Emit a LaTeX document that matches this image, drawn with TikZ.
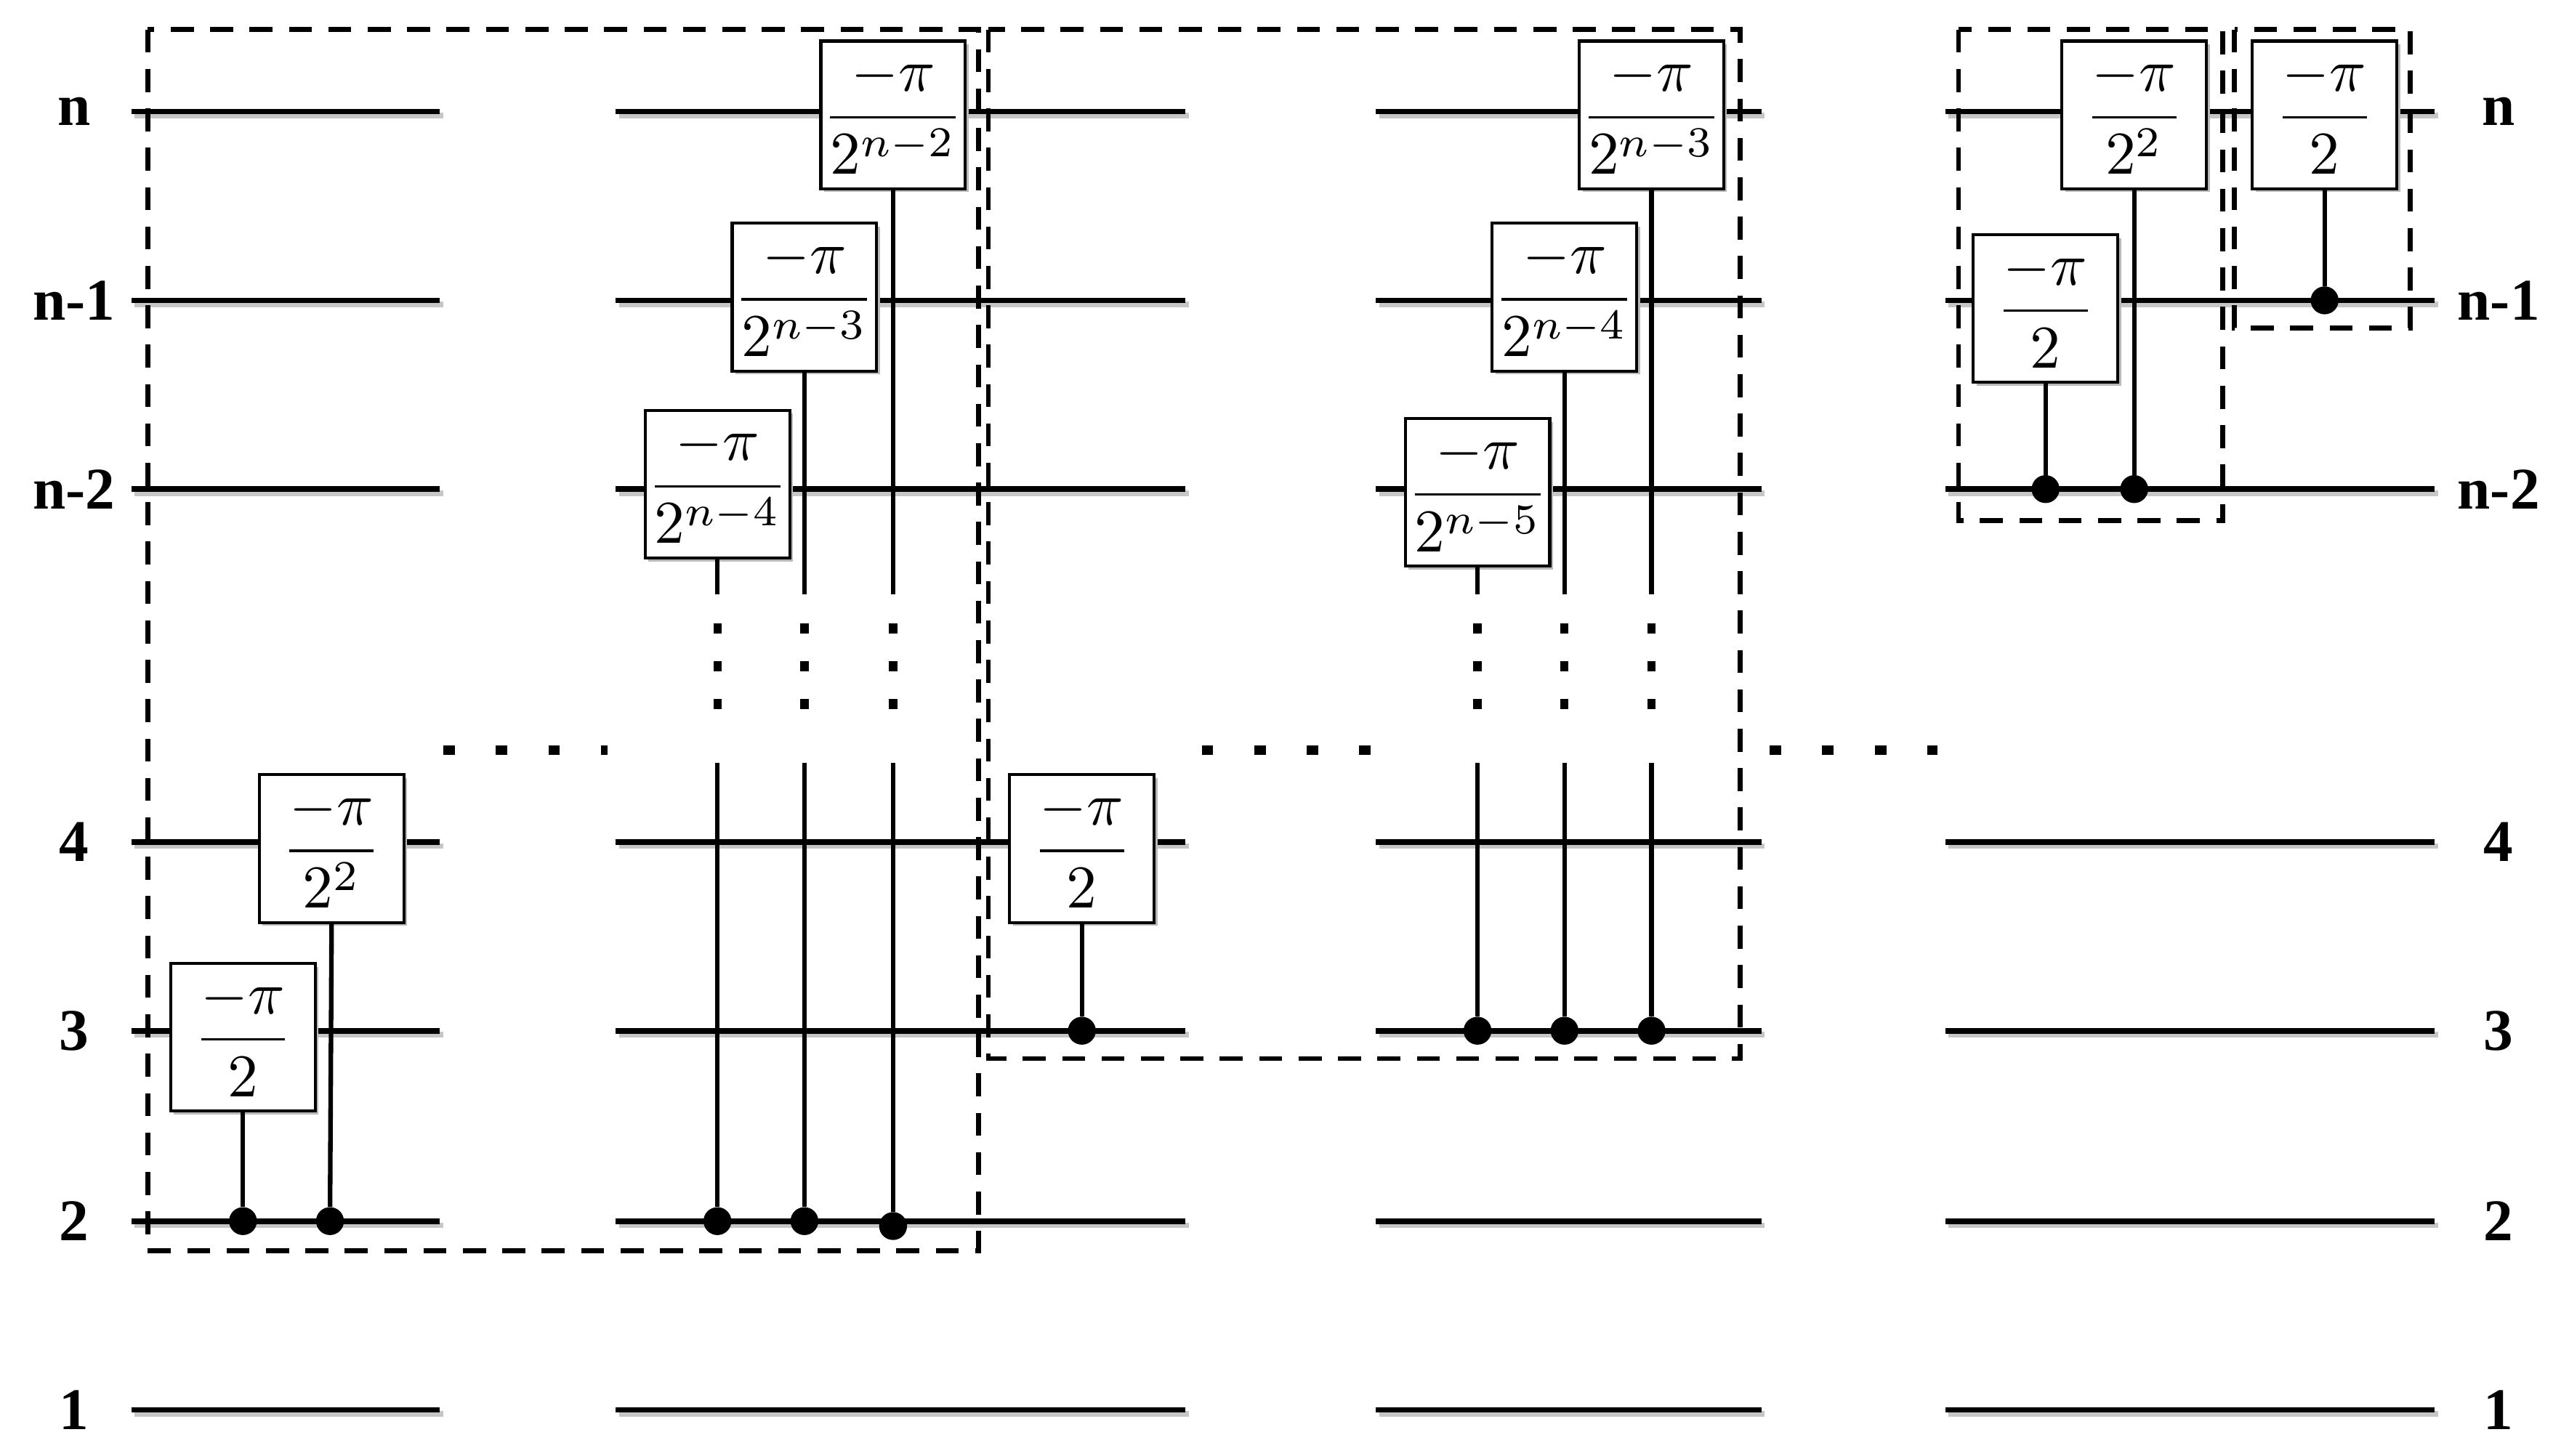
\documentclass[tikz,border=0pt]{standalone}
\usepackage{fontspec}
\usepackage{amsmath}
\usepackage{graphicx}
\usetikzlibrary{shadows}
\newfontfamily\lblfont{Liberation Serif}
\newcommand{\gfr}[1]{\scalebox{3.7}{$\dfrac{-\pi}{#1}$}}
\begin{document}
\begin{tikzpicture}[x=1pt,y=-1pt,
  wire/.style={line width=3.4pt},
  wshadow/.style={line width=3.4pt,gray!45},
  gate/.style={draw,line width=1.8pt,fill=white,minimum width=88pt,minimum height=90pt,inner sep=0pt,
     drop shadow={shadow xshift=2pt,shadow yshift=-2pt,fill=gray!55,opacity=1}},
  ctl/.style={line width=2.8pt},
  cdot/.style={circle,fill=black,inner sep=0pt,minimum size=17pt},
  grp/.style={line width=3pt,dash pattern=on 14pt off 10pt},
  vdots/.style={line width=5pt,dash pattern=on 6pt off 17pt},
  hdots/.style={line width=6pt,dash pattern=on 7pt off 25pt},
  lbl/.style={font=\lblfont\bfseries\fontsize{36}{40}\selectfont}]
\useasboundingbox (0,0) rectangle (1560,887);
% wires
\foreach \y/\t [count=\i] in {68/n,183/n-1,298/n-2,513/4,628/3,744/2,859/1}{
  \foreach \a/\b in {80/268,375/722,838/1073,1185/1483}{
    \draw[wshadow] (\a+2,\y+2.5) -- (\b+2,\y+2.5);
    \draw[wire] (\a,\y) -- (\b,\y);
  }
  \node[lbl] (L\i) at (45,\y) {\t};
  \node[lbl] (R\i) at (1522,\y) {\t};
}
% group boxes
\draw[grp] (90,18) rectangle (596,762);
\draw[grp] (602,18) rectangle (1060,645);
\draw[grp] (1193,18) rectangle (1354,317);
\draw[grp] (1361,18) rectangle (1468,200);
% horizontal dots
\coordinate (h1a) at (270,457); \coordinate (h1b) at (370,457);
\coordinate (h2a) at (732,457); \coordinate (h2b) at (835,457);
\coordinate (h3a) at (1078,457); \coordinate (h3b) at (1180,457);
\draw[hdots] (h1a) -- (h1b);
\draw[hdots] (h2a) -- (h2b);
\draw[hdots] (h3a) -- (h3b);
% group 1
\node[gate] (g1a) at (148,632) {\gfr{2}};
\node[gate] (g1b) at (202,517) {\gfr{2^2}};
\node[cdot] (d1a) at (148,744) {};
\node[cdot] (d1b) at (201,744) {};
\draw[ctl] (g1a.south) -- (d1a);
\draw[ctl] (g1b.south) -- (d1b);
% group 2
\node[gate] (g2a) at (437,295) {\gfr{2^{n-4}}};
\node[gate] (g2b) at (490,181) {\gfr{2^{n-3}}};
\node[gate] (g2c) at (544,70) {\gfr{2^{n-2}}};
\node[cdot] (d2a) at (437,744) {};
\node[cdot] (d2b) at (490,744) {};
\node[cdot] (d2c) at (544,747) {};
\foreach \g/\d/\x in {g2a/d2a/437,g2b/d2b/490,g2c/d2c/544}{
  \coordinate (\g m) at (\x,362);
  \coordinate (\g n) at (\x,465);
  \draw[ctl] (\g.south) -- (\g m);
  \draw[vdots] (\x,380) -- (\x,440);
  \draw[ctl] (\g n) -- (\d);
}
% group 3
\node[gate] (g3a) at (659,517) {\gfr{2}};
\node[cdot] (d3a) at (659,628) {};
\draw[ctl] (g3a.south) -- (d3a);
\node[gate] (g3b) at (900,300) {\gfr{2^{n-5}}};
\node[gate] (g3c) at (953,181) {\gfr{2^{n-4}}};
\node[gate] (g3d) at (1006,70) {\gfr{2^{n-3}}};
\node[cdot] (d3b) at (900,628) {};
\node[cdot] (d3c) at (953,628) {};
\node[cdot] (d3d) at (1006,628) {};
\foreach \g/\d/\x in {g3b/d3b/900,g3c/d3c/953,g3d/d3d/1006}{
  \coordinate (\g m) at (\x,362);
  \coordinate (\g n) at (\x,465);
  \draw[ctl] (\g.south) -- (\g m);
  \draw[vdots] (\x,380) -- (\x,440);
  \draw[ctl] (\g n) -- (\d);
}
% group 4
\node[gate] (g4a) at (1246,188) {\gfr{2}};
\node[gate] (g4b) at (1300,70) {\gfr{2^2}};
\node[gate] (g4c) at (1416,70) {\gfr{2}};
\node[cdot] (d4a) at (1246,298) {};
\node[cdot] (d4b) at (1300,298) {};
\node[cdot] (d4c) at (1416,183) {};
\draw[ctl] (g4a.south) -- (d4a);
\draw[ctl] (g4b.south) -- (d4b);
\draw[ctl] (g4c.south) -- (d4c);
\end{tikzpicture}
\end{document}
